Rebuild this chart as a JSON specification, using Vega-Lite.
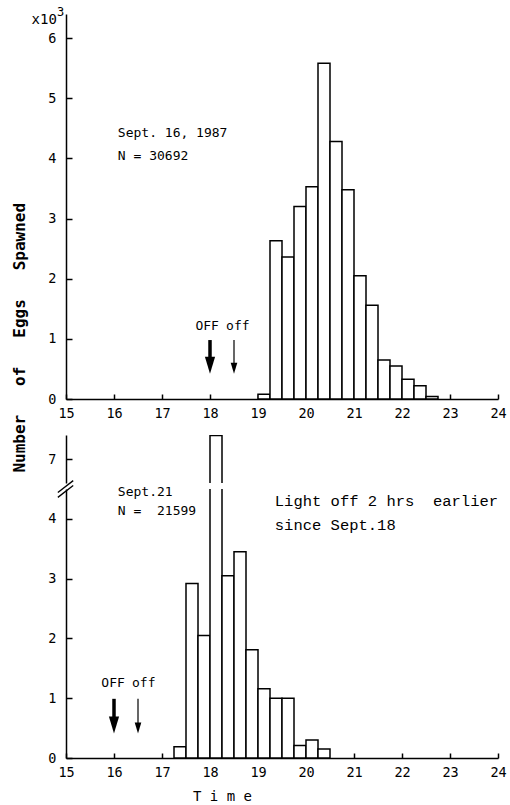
{
  "$schema": "https://vega.github.io/schema/vega-lite/v6.json",
  "background": "white",
  "padding": {"left": 11, "top": 6, "right": 4, "bottom": 0},
  "title": {
    "text": "Number\u00a0\u00a0\u00a0of\u00a0\u00a0\u00a0Eggs\u00a0\u00a0\u00a0Spawned",
    "orient": "left",
    "anchor": "middle",
    "font": "DejaVu Sans Mono",
    "fontSize": 16,
    "fontWeight": "bold",
    "color": "black",
    "offset": 4,
    "dx": 67
  },
  "config": {
    "view": {"stroke": null},
    "axis": {
      "grid": false,
      "domainColor": "black",
      "domainWidth": 1.5,
      "tickColor": "black",
      "tickWidth": 1.5,
      "labelColor": "black",
      "labelFont": "DejaVu Sans Mono",
      "labelFontSize": 13.5,
      "labelFlush": false,
      "format": "d"
    }
  },
  "datasets": {
    "sep16": [
      {"start": 19.0, "end": 19.25, "thousands": 0.08},
      {"start": 19.25, "end": 19.5, "thousands": 2.63},
      {"start": 19.5, "end": 19.75, "thousands": 2.36},
      {"start": 19.75, "end": 20.0, "thousands": 3.2},
      {"start": 20.0, "end": 20.25, "thousands": 3.53},
      {"start": 20.25, "end": 20.5, "thousands": 5.58},
      {"start": 20.5, "end": 20.75, "thousands": 4.28},
      {"start": 20.75, "end": 21.0, "thousands": 3.48},
      {"start": 21.0, "end": 21.25, "thousands": 2.05},
      {"start": 21.25, "end": 21.5, "thousands": 1.56},
      {"start": 21.5, "end": 21.75, "thousands": 0.65},
      {"start": 21.75, "end": 22.0, "thousands": 0.55},
      {"start": 22.0, "end": 22.25, "thousands": 0.33},
      {"start": 22.25, "end": 22.5, "thousands": 0.22},
      {"start": 22.5, "end": 22.75, "thousands": 0.04}
    ],
    "sep21": [
      {"start": 17.25, "end": 17.5, "thousands": 0.19},
      {"start": 17.5, "end": 17.75, "thousands": 2.92},
      {"start": 17.75, "end": 18.0, "thousands": 2.05},
      {"start": 18.0, "end": 18.25, "thousands": 7.39},
      {"start": 18.25, "end": 18.5, "thousands": 3.05},
      {"start": 18.5, "end": 18.75, "thousands": 3.45},
      {"start": 18.75, "end": 19.0, "thousands": 1.81},
      {"start": 19.0, "end": 19.25, "thousands": 1.16},
      {"start": 19.25, "end": 19.5, "thousands": 1.0},
      {"start": 19.5, "end": 19.75, "thousands": 1.0},
      {"start": 19.75, "end": 20.0, "thousands": 0.21},
      {"start": 20.0, "end": 20.25, "thousands": 0.3},
      {"start": 20.25, "end": 20.5, "thousands": 0.15}
    ],
    "notes16": [
      {"time": 16.08, "value": 4.42, "label": "Sept. 16, 1987"},
      {"time": 16.08, "value": 4.04, "label": "N = 30692"}
    ],
    "unit16": [
      {"time": 14.81, "value": 6.3, "label": "x10"}
    ],
    "power16": [
      {"time": 14.81, "value": 6.425, "label": "3"}
    ],
    "offlabels16": [
      {"time": 17.94, "value": 1.21, "label": "OFF"},
      {"time": 18.58, "value": 1.21, "label": "off"}
    ],
    "arrows16": [
      {"time": 18.0, "top": 0.98, "bottom": 0.6, "kind": "OFF"},
      {"time": 18.5, "top": 0.98, "bottom": 0.55, "kind": "off"}
    ],
    "heads16": [
      {"time": 18.0, "tip": 0.56, "kind": "OFF"},
      {"time": 18.5, "tip": 0.51, "kind": "off"}
    ],
    "notes21": [
      {"time": 16.08, "value": 4.45, "label": "Sept.21"},
      {"time": 16.08, "value": 4.13, "label": "N =\u00a0\u00a021599"}
    ],
    "light21": [
      {"time": 19.35, "value": 4.3, "label": "Light off 2 hrs\u00a0\u00a0earlier"},
      {"time": 19.35, "value": 3.9, "label": "since Sept.18"}
    ],
    "offlabels21": [
      {"time": 15.98, "value": 1.25, "label": "OFF"},
      {"time": 16.62, "value": 1.25, "label": "off"}
    ],
    "arrows21": [
      {"time": 16.0, "top": 0.99, "bottom": 0.6, "kind": "OFF"},
      {"time": 16.5, "top": 0.99, "bottom": 0.55, "kind": "off"}
    ],
    "heads21": [
      {"time": 16.0, "tip": 0.55, "kind": "OFF"},
      {"time": 16.5, "tip": 0.5, "kind": "off"}
    ],
    "breaks": [
      {"time": 14.83, "time2": 15.15, "value": 4.36, "value2": 4.56},
      {"time": 14.83, "time2": 15.15, "value": 4.44, "value2": 4.64}
    ]
  },
  "spacing": 15,
  "vconcat": [
    {
      "width": 432,
      "height": 385,
      "layer": [
        {
          "data": {"name": "sep16"},
          "mark": {"type": "rect", "fill": "white", "stroke": "black", "strokeWidth": 1.5},
          "encoding": {
            "x": {"field": "start", "type": "quantitative",
                  "scale": {"domain": [15, 24], "nice": false, "zero": false},
                  "axis": {"values": [15, 16, 17, 18, 19, 20, 21, 22, 23, 24], "title": null, "tickSize": -5, "labelPadding": 12}},
            "x2": {"field": "end"},
            "y": {"field": "thousands", "type": "quantitative",
                  "scale": {"domain": [0, 6.4], "nice": false},
                  "axis": {"values": [0, 1, 2, 3, 4, 5, 6], "title": null, "tickSize": -6, "labelPadding": 16}},
            "y2": {"datum": 0}
          }
        },
        {
          "data": {"name": "notes16"},
          "mark": {"type": "text", "align": "left", "baseline": "middle", "font": "DejaVu Sans Mono", "fontSize": 13, "color": "black"},
          "encoding": {
            "x": {"field": "time", "type": "quantitative"},
            "y": {"field": "value", "type": "quantitative"},
            "text": {"field": "label"}
          }
        },
        {
          "data": {"name": "unit16"},
          "mark": {"type": "text", "align": "right", "baseline": "middle", "font": "DejaVu Sans Mono", "fontSize": 14, "color": "black"},
          "encoding": {
            "x": {"field": "time", "type": "quantitative"},
            "y": {"field": "value", "type": "quantitative"},
            "text": {"field": "label"}
          }
        },
        {
          "data": {"name": "power16"},
          "mark": {"type": "text", "align": "left", "baseline": "middle", "font": "DejaVu Sans Mono", "fontSize": 12, "color": "black"},
          "encoding": {
            "x": {"field": "time", "type": "quantitative"},
            "y": {"field": "value", "type": "quantitative"},
            "text": {"field": "label"}
          }
        },
        {
          "data": {"name": "offlabels16"},
          "mark": {"type": "text", "align": "center", "baseline": "middle", "font": "DejaVu Sans Mono", "fontSize": 13, "color": "black"},
          "encoding": {
            "x": {"field": "time", "type": "quantitative"},
            "y": {"field": "value", "type": "quantitative"},
            "text": {"field": "label"}
          }
        },
        {
          "data": {"name": "arrows16"},
          "mark": {"type": "rule", "color": "black"},
          "encoding": {
            "x": {"field": "time", "type": "quantitative"},
            "y": {"field": "top", "type": "quantitative"},
            "y2": {"field": "bottom"},
            "strokeWidth": {"field": "kind", "type": "ordinal", "scale": {"domain": ["OFF", "off"], "range": [3.5, 1.2]}, "legend": null}
          }
        },
        {
          "data": {"name": "heads16"},
          "mark": {"type": "point", "shape": "M-0.6,-1L0.6,-1L0,1Z", "filled": true, "color": "black", "opacity": 1},
          "encoding": {
            "x": {"field": "time", "type": "quantitative"},
            "y": {"field": "tip", "type": "quantitative"},
            "size": {"field": "kind", "type": "ordinal", "scale": {"domain": ["OFF", "off"], "range": [289, 121]}, "legend": null}
          }
        }
      ]
    },
    {
      "spacing": 6,
      "bounds": "flush",
      "vconcat": [
        {
          "width": 432,
          "height": 48,
          "layer": [
            {
              "data": {"name": "sep21"},
              "mark": {"type": "rect", "fill": "white", "stroke": "black", "strokeWidth": 1.5, "clip": true},
              "encoding": {
                "x": {"field": "start", "type": "quantitative",
                      "scale": {"domain": [15, 24], "nice": false, "zero": false}, "axis": null},
                "x2": {"field": "end"},
                "y": {"field": "thousands", "type": "quantitative",
                      "scale": {"domain": [6.6, 7.4], "nice": false, "zero": false},
                      "axis": {"values": [7], "title": null, "tickSize": -6, "labelPadding": 16}},
                "y2": {"datum": 0}
              }
            }
          ]
        },
        {
          "width": 432,
          "height": 269,
          "layer": [
            {
              "data": {"name": "sep21"},
              "mark": {"type": "rect", "fill": "white", "stroke": "black", "strokeWidth": 1.5, "clip": true},
              "encoding": {
                "x": {"field": "start", "type": "quantitative",
                      "scale": {"domain": [15, 24], "nice": false, "zero": false},
                      "axis": {"values": [15, 16, 17, 18, 19, 20, 21, 22, 23, 24], "tickSize": -5, "labelPadding": 12,
                               "title": "T i m e", "titleFont": "DejaVu Sans Mono", "titleFontSize": 14, "titleFontWeight": "normal",
                               "titleColor": "black", "titleX": 156, "titleY": 38, "titleAlign": "center", "titleBaseline": "middle"}},
                "x2": {"field": "end"},
                "y": {"field": "thousands", "type": "quantitative",
                      "scale": {"domain": [0, 4.5], "nice": false},
                      "axis": {"values": [0, 1, 2, 3, 4], "title": null, "tickSize": -6, "labelPadding": 16}},
                "y2": {"datum": 0}
              }
            },
            {
              "data": {"name": "notes21"},
              "mark": {"type": "text", "align": "left", "baseline": "middle", "font": "DejaVu Sans Mono", "fontSize": 13, "color": "black"},
              "encoding": {
                "x": {"field": "time", "type": "quantitative"},
                "y": {"field": "value", "type": "quantitative"},
                "text": {"field": "label"}
              }
            },
            {
              "data": {"name": "light21"},
              "mark": {"type": "text", "align": "left", "baseline": "middle", "font": "Liberation Mono", "fontSize": 15.5, "color": "black"},
              "encoding": {
                "x": {"field": "time", "type": "quantitative"},
                "y": {"field": "value", "type": "quantitative"},
                "text": {"field": "label"}
              }
            },
            {
              "data": {"name": "offlabels21"},
              "mark": {"type": "text", "align": "center", "baseline": "middle", "font": "DejaVu Sans Mono", "fontSize": 13, "color": "black"},
              "encoding": {
                "x": {"field": "time", "type": "quantitative"},
                "y": {"field": "value", "type": "quantitative"},
                "text": {"field": "label"}
              }
            },
            {
              "data": {"name": "arrows21"},
              "mark": {"type": "rule", "color": "black"},
              "encoding": {
                "x": {"field": "time", "type": "quantitative"},
                "y": {"field": "top", "type": "quantitative"},
                "y2": {"field": "bottom"},
                "strokeWidth": {"field": "kind", "type": "ordinal", "scale": {"domain": ["OFF", "off"], "range": [3.5, 1.2]}, "legend": null}
              }
            },
            {
              "data": {"name": "heads21"},
              "mark": {"type": "point", "shape": "M-0.6,-1L0.6,-1L0,1Z", "filled": true, "color": "black", "opacity": 1},
              "encoding": {
                "x": {"field": "time", "type": "quantitative"},
                "y": {"field": "tip", "type": "quantitative"},
                "size": {"field": "kind", "type": "ordinal", "scale": {"domain": ["OFF", "off"], "range": [289, 121]}, "legend": null}
              }
            },
            {
              "data": {"name": "breaks"},
              "mark": {"type": "rule", "color": "black", "strokeWidth": 1.3},
              "encoding": {
                "x": {"field": "time", "type": "quantitative"},
                "x2": {"field": "time2"},
                "y": {"field": "value", "type": "quantitative"},
                "y2": {"field": "value2"}
              }
            }
          ]
        }
      ]
    }
  ]
}
